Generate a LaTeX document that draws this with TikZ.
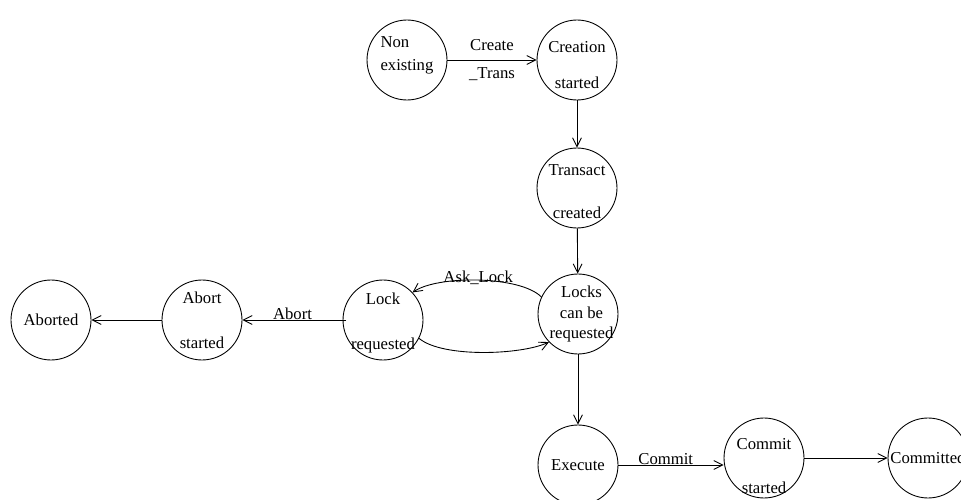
\documentclass[tikz,border=0pt]{standalone}
\usepackage{fontspec}
\setmainfont{Liberation Serif}
\usetikzlibrary{arrows.meta}

\begin{document}
\begin{tikzpicture}[x=0.02cm, y=-0.02cm, line width=0.5pt,
        font=\fontsize{9.5}{11.4}\selectfont,
        >={Straight Barb[length=5pt,width=5pt]},
        state/.style={draw, circle, minimum size=1.6cm, inner sep=0pt},
        statetext/.style={align=center, inner sep=0pt},
        edgelabel/.style={above, inner sep=0pt}]
        \useasboundingbox (0,0) rectangle (961,500);
        \clip (0,0) rectangle (961,500);

        % states
        \node[state] (nonex) at (407,60) {};
        \node[state] (creat) at (577,60) {};
        \node[state] (trans) at (577,188) {};
        \node[state] (locks) at (578,314) {};
        \node[state] (lockreq) at (383,320) {};
        \node[state] (abortst) at (202,320) {};
        \node[state] (aborted) at (51,320) {};
        \node[state] (exec) at (578,465) {};
        \node[state] (commitst) at (764,458) {};
        \node[state] (committed) at (928,458) {};

        % state texts
        \node[statetext, align=left] (nonex-t) at ([yshift=2.8pt]nonex) {Non\\[1.6pt]existing};
        \node[statetext] (creat-t) at ([yshift=-2.8pt]creat) {Creation\\[9.5pt]started};
        \node[statetext] (trans-t) at ([yshift=-2.2pt]trans) {Transact\\[13pt]created};
        \node[statetext] (locks-t) at ([xshift=2pt]locks) {Locks\\can be\\requested};
        \node[statetext] (lockreq-t) at ([yshift=-1.7pt]lockreq) {Lock\\[14pt]requested};
        \node[statetext] (abortst-t) at (abortst) {Abort\\[14pt]started};
        \node[statetext] (aborted-t) at (aborted) {Aborted};
        \node[statetext] (exec-t) at (exec) {Execute};
        \node[statetext] (commitst-t) at ([yshift=-4.5pt]commitst) {Commit\\[13.5pt]started};
        \node[statetext] (committed-t) at (committed) {Committed};

        % transitions
        \draw[->] (nonex) -- node[statetext, midway] (createlbl) {Create\\[5pt]\_Trans} (creat);
        \draw[->] (creat) -- (trans);
        \draw[->] (trans) -- (locks);
        \draw[->] (locks.155) to[out=135, in=35, looseness=0.6]
            node[midway, above, inner sep=0pt, yshift=-3pt] (asklbl) {Ask\_Lock} (lockreq.43);
        \draw[->] (lockreq.-27) to[out=-40, in=205, looseness=0.6] (locks.224);
        \draw[->, shorten <=-2pt] (lockreq.west) -- node[edgelabel, midway] (abortlbl) {Abort} (abortst.east);
        \draw[->] (abortst.west) -- (aborted.east);
        \draw[->] (locks) -- (exec);
        \draw[->] (exec.east) -- node[edgelabel, pos=0.45] (commitlbl) {Commit} (exec.east -| commitst.west);
        \draw[->] (commitst.east) -- (commitst.east -| committed.west);
\end{tikzpicture}
\end{document}
